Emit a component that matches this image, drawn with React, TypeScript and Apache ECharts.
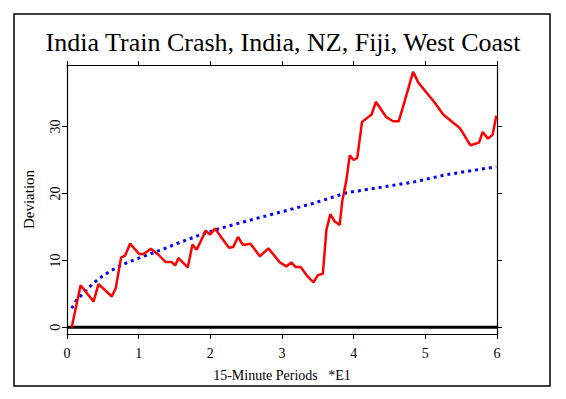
import React, { useEffect, useRef } from "react";
import * as echarts from "echarts";

const titleText = "India Train Crash, India, NZ, Fiji, West Coast";
const xAxisName = "15-Minute Periods   *E1";
const yAxisName = "Deviation";
const yTickValues = [0, 10, 20, 30];

// cumulative deviation (red)
const devX = [0.066, 0.19, 0.37, 0.44, 0.625, 0.68, 0.755, 0.81, 0.88, 1.005, 1.07, 1.17, 1.275, 1.377, 1.46, 1.51, 1.555, 1.685, 1.75, 1.81, 1.935, 1.995, 2.065, 2.16, 2.26, 2.32, 2.386, 2.456, 2.56, 2.69, 2.81, 2.97, 3.06, 3.13, 3.19, 3.26, 3.35, 3.44, 3.5, 3.57, 3.62, 3.675, 3.735, 3.805, 3.84, 3.9, 3.945, 4.0, 4.05, 4.117, 4.25, 4.31, 4.456, 4.55, 4.63, 4.725, 4.83, 4.9, 5.015, 5.13, 5.25, 5.385, 5.48, 5.63, 5.75, 5.8, 5.875, 5.94, 5.99];
const devY = [0, 6.3, 3.85, 6.45, 4.6, 5.85, 10.45, 10.7, 12.5, 10.95, 10.95, 11.75, 10.85, 9.75, 9.75, 9.25, 10.35, 8.95, 12.35, 11.6, 14.45, 13.85, 14.75, 13.35, 11.9, 12.0, 13.5, 12.3, 12.5, 10.6, 11.8, 9.7, 9.1, 9.7, 9.0, 9.0, 7.7, 6.7, 7.8, 8.0, 14.6, 16.9, 15.8, 15.3, 18.8, 22.1, 25.7, 25.0, 25.3, 30.7, 31.8, 33.7, 31.4, 30.8, 30.8, 34.3, 38.2, 36.6, 35.1, 33.6, 31.8, 30.6, 29.8, 27.2, 27.6, 29.2, 28.2, 28.8, 31.6];

// expectation envelope (blue dotted)
const envX = [0.066, 0.135, 0.205, 0.368, 0.507, 0.694, 0.88, 1.066, 1.32, 1.555, 1.83, 2.11, 2.41, 2.97, 3.43, 3.9, 4.36, 4.83, 5.29, 5.99];
const envY = [2.85, 4.1, 4.85, 6.6, 7.75, 8.95, 9.85, 10.6, 11.6, 12.6, 13.7, 14.7, 15.6, 17.2, 18.5, 20.1, 20.9, 21.7, 22.8, 24.0];

// zero reference line
const zeroX = [0, 6];
const zeroY = [0, 0];

const FONT = "'Liberation Serif', 'Times New Roman', serif";

export default function App() {
  const ref = useRef<HTMLDivElement>(null);
  useEffect(() => {
    if (!ref.current) return;
    const chart = echarts.init(ref.current, null, { renderer: "svg" });
    const pair = (xs: number[], ys: number[]) => xs.map((x, i) => [x, ys[i]]);
    const lineAxis = { show: true, onZero: false, lineStyle: { color: "#000", width: 1.2 } };
    chart.setOption({
      animation: false,
      backgroundColor: "#fff",
      title: {
        text: titleText,
        left: "center",
        top: 24,
        textStyle: { fontFamily: FONT, fontSize: 26, fontWeight: "normal", color: "#000" },
      },
      graphic: [
        {
          type: "rect",
          shape: { x: 14, y: 14, width: 536, height: 372 },
          style: { fill: "none", stroke: "#000", lineWidth: 1.5 },
          silent: true,
        },
      ],
      grid: { left: 67, right: 69, top: 65, bottom: 65, containLabel: false },
      xAxis: [
        {
          type: "value",
          min: 0,
          max: 6,
          interval: 1,
          position: "bottom",
          axisLine: lineAxis,
          axisTick: { show: true, inside: false, length: 5, lineStyle: { color: "#000" } },
          axisLabel: { color: "#000", fontFamily: FONT, fontSize: 14, margin: 12 },
          splitLine: { show: false },
          name: xAxisName,
          nameLocation: "middle",
          nameGap: 34,
          nameTextStyle: { color: "#000", fontFamily: FONT, fontSize: 14 },
        },
        {
          type: "value",
          min: 0,
          max: 6,
          interval: 1,
          position: "top",
          axisLine: lineAxis,
          axisTick: { show: true, inside: false, length: 4, lineStyle: { color: "#000" } },
          axisLabel: { show: false },
          splitLine: { show: false },
        },
      ],
      yAxis: [
        {
          type: "value",
          min: -1,
          max: 39.2,
          position: "left",
          axisLine: lineAxis,
          axisTick: { show: true, inside: false, length: 5, customValues: yTickValues, lineStyle: { color: "#000" } },
          axisLabel: { color: "#000", fontFamily: FONT, fontSize: 14, rotate: 90, margin: 5, customValues: yTickValues },
          splitLine: { show: false },
          name: yAxisName,
          nameLocation: "middle",
          nameGap: 31,
          nameTextStyle: { color: "#000", fontFamily: FONT, fontSize: 15 },
        },
        {
          type: "value",
          min: -1,
          max: 39.2,
          position: "right",
          axisLine: lineAxis,
          axisTick: { show: true, inside: false, length: 5, customValues: yTickValues, lineStyle: { color: "#000" } },
          axisLabel: { show: false },
          splitLine: { show: false },
        },
      ],
      series: [
        {
          type: "line",
          data: pair(zeroX, zeroY),
          showSymbol: false,
          lineStyle: { color: "#000", width: 3 },
          silent: true,
        },
        {
          type: "line",
          data: pair(envX, envY),
          showSymbol: false,
          smooth: false,
          lineStyle: { color: "#0000ff", width: 3, type: [3, 4], cap: "butt" },
          silent: true,
        },
        {
          type: "line",
          data: pair(devX, devY),
          showSymbol: false,
          lineStyle: { color: "#ff0000", width: 2.5 },
          silent: true,
        },
      ],
    });
    return () => chart.dispose();
  }, []);
  return <div ref={ref} style={{ position: "fixed", left: 0, top: 0, width: 566, height: 399 }} />;
}
